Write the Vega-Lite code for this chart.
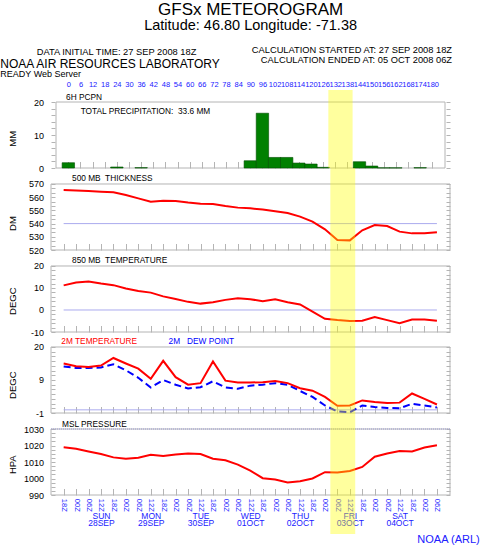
{
  "$schema": "https://vega.github.io/schema/vega-lite/v6.json",
  "padding": 0,
  "background": "white",
  "config": {
    "font": "Liberation Sans",
    "view": {"stroke": null},
    "axis": {"labelFont": "Liberation Sans", "titleFont": "Liberation Sans", "grid": false, "domain": false, "tickColor": "#b4b4b4", "labelColor": "black", "titleColor": "black", "titleFontWeight": "normal"},
    "title": {"font": "Liberation Sans", "subtitleFont": "Liberation Sans", "fontWeight": "normal", "color": "black", "subtitleColor": "black"}
  },
  "title": {"text": "GFSx METEOROGRAM", "subtitle": "Latitude: 46.80 Longitude: -71.38", "anchor": "middle", "frame": "group", "dx": 199.6, "fontSize": 17, "subtitleFontSize": 14.5, "subtitlePadding": 0.5, "offset": 12.5},
  "datasets": {
    "met": [
      {"hour": 0, "thk": 565.5, "t850": 11.2, "t2": 14.75, "td": 13.8, "slp": 1019},
      {"hour": 6, "thk": 565, "t850": 12.5, "t2": 13.9, "td": 13.3, "slp": 1018},
      {"hour": 12, "thk": 564.7, "t850": 13, "t2": 13.65, "td": 13.3, "slp": 1016.4},
      {"hour": 18, "thk": 564.2, "t850": 12, "t2": 14.1, "td": 13.5, "slp": 1014.8},
      {"hour": 24, "thk": 563.7, "t850": 11.3, "t2": 16.5, "td": 14.5, "slp": 1012.8},
      {"hour": 30, "thk": 561.7, "t850": 9.8, "t2": 14.75, "td": 12.6, "slp": 1012},
      {"hour": 36, "thk": 559.1, "t850": 8.6, "t2": 13.1, "td": 10.2, "slp": 1012.6},
      {"hour": 42, "thk": 556.6, "t850": 7.9, "t2": 9.9, "td": 7.1, "slp": 1014.4},
      {"hour": 48, "thk": 557.4, "t850": 6.2, "t2": 15.6, "td": 9.5, "slp": 1013.6},
      {"hour": 54, "thk": 557.1, "t850": 5, "t2": 10.4, "td": 8.0, "slp": 1014.6},
      {"hour": 60, "thk": 555.9, "t850": 3.7, "t2": 8.0, "td": 6.8, "slp": 1015.2},
      {"hour": 66, "thk": 555.1, "t850": 2.9, "t2": 8.5, "td": 7.2, "slp": 1014.8},
      {"hour": 72, "thk": 554.8, "t850": 3.5, "t2": 15.4, "td": 9.1, "slp": 1012},
      {"hour": 78, "thk": 553.3, "t850": 4.6, "t2": 9.3, "td": 7.1, "slp": 1011},
      {"hour": 84, "thk": 552.1, "t850": 5.3, "t2": 8.7, "td": 6.7, "slp": 1008.4},
      {"hour": 90, "thk": 551.6, "t850": 4.9, "t2": 8.7, "td": 7.7, "slp": 1004.8},
      {"hour": 96, "thk": 550.6, "t850": 4, "t2": 8.8, "td": 8.0, "slp": 1000.2},
      {"hour": 102, "thk": 549.3, "t850": 4.9, "t2": 9.2, "td": 8.5, "slp": 999.4},
      {"hour": 108, "thk": 548, "t850": 3.5, "t2": 8.5, "td": 8.0, "slp": 997.6},
      {"hour": 114, "thk": 545.3, "t850": 2.5, "t2": 6.9, "td": 6.0, "slp": 998.4},
      {"hour": 120, "thk": 541.5, "t850": -0.7, "t2": 6.1, "td": 4.1, "slp": 1000},
      {"hour": 126, "thk": 535.7, "t850": -4, "t2": 4.1, "td": 1.4, "slp": 1003.8},
      {"hour": 132, "thk": 527.6, "t850": -4.6, "t2": 1.3, "td": -0.5, "slp": 1003.6},
      {"hour": 138, "thk": 527.3, "t850": -5, "t2": 1.4, "td": -0.8, "slp": 1004.6},
      {"hour": 144, "thk": 534.9, "t850": -4.9, "t2": 3.0, "td": 1.4, "slp": 1007},
      {"hour": 150, "thk": 538.9, "t850": -3.2, "t2": 2.5, "td": 0.9, "slp": 1013.2},
      {"hour": 156, "thk": 538.2, "t850": -4.6, "t2": 2.2, "td": 0.6, "slp": 1015.2},
      {"hour": 162, "thk": 533.9, "t850": -6, "t2": 2.3, "td": 0.5, "slp": 1016.6},
      {"hour": 168, "thk": 532.6, "t850": -4.3, "t2": 5.2, "td": 1.95, "slp": 1016.4},
      {"hour": 174, "thk": 532.6, "t850": -4.3, "t2": 3.5, "td": 1.4, "slp": 1018.8},
      {"hour": 180, "thk": 533.4, "t850": -4.9, "t2": 1.7, "td": 0.75, "slp": 1020.2}
    ],
    "pcpn": [
      {"hour": 0, "mm": 1.6}, {"hour": 24, "mm": 0.3}, {"hour": 36, "mm": 0.1},
      {"hour": 90, "mm": 2.2}, {"hour": 96, "mm": 16.6}, {"hour": 102, "mm": 3.2},
      {"hour": 108, "mm": 3.2}, {"hour": 114, "mm": 1.5}, {"hour": 120, "mm": 1.2},
      {"hour": 126, "mm": 0.2}, {"hour": 144, "mm": 1.9}, {"hour": 150, "mm": 0.6},
      {"hour": 156, "mm": 0.05}, {"hour": 162, "mm": 0.05}, {"hour": 174, "mm": 0.1}
    ],
    "band": [{"start": 128.6, "end": 140.6}]
  },
  "bounds": "flush",
  "spacing": 0,
  "vconcat": [
    {
      "hconcat": [
        {"width": 131, "height": 13, "data": {"values": []}, "mark": "point",
         "title": {"text": "DATA INITIAL TIME: 27 SEP 2008 18Z", "anchor": "middle", "fontSize": 9.3, "offset": -4}},
        {"width": 268, "height": 13, "data": {"values": []}, "mark": "point",
         "title": {"text": ["CALCULATION STARTED AT: 27 SEP 2008 18Z", "CALCULATION ENDED AT: 05 OCT 2008 06Z"], "anchor": "end", "dx": 2, "fontSize": 9.3, "lineHeight": 9.5, "offset": -12.1}}
      ],
      "spacing": 0,
      "bounds": "flush"
    },
    {"width": 399, "height": 37, "data": {"values": []}, "mark": "point",
     "title": {"text": "NOAA AIR RESOURCES LABORATORY", "subtitle": "READY Web Server", "anchor": "start", "dx": -50.7, "fontSize": 12, "subtitleFontSize": 9, "subtitlePadding": -1, "offset": -27}},
    {
      "width": 399, "height": 78,
      "resolve": {"axis": {"x": "independent", "y": "independent"}},
      "layer": [
        {"data": {"values": [{}]}, "mark": {"type": "rect", "fillOpacity": 0, "stroke": "#b4b4b4", "strokeWidth": 1},
         "encoding": {
           "x": {"datum": -6.1, "type": "quantitative", "scale": {"domain": [-6.1, 186.3], "nice": false, "zero": false},
                 "axis": {"orient": "bottom", "values": [0,6,12,18,24,30,36,42,48,54,60,66,72,78,84,90,96,102,108,114,120,126,132,138,144,150,156,162,168,174,180], "labels": false, "tickSize": -6.5, "domain": false, "grid": false, "title": null}},
           "x2": {"datum": 186.3},
           "y": {"datum": 0, "type": "quantitative", "scale": {"domain": [0, 23.64], "nice": false, "zero": false},
                 "axis": {"orient": "right", "values": [0,2,4,6,8,10,12,14,16,18,20], "labels": false, "tickSize": -4, "domain": false, "grid": false, "title": null}},
           "y2": {"datum": 20}
         }},
        {"data": {"name": "pcpn"}, "mark": {"type": "bar", "width": 12.4, "fill": "#008000", "stroke": "#004d00", "strokeWidth": 0.6},
         "encoding": {
           "x": {"field": "hour", "type": "quantitative", "axis": null},
           "y": {"field": "mm", "type": "quantitative",
                 "axis": {"orient": "left", "values": [0,2,4,6,8,10,12,14,16,18,20], "labelExpr": "datum.value % 10 == 0 ? toString(datum.value) : ''", "tickSize": -4, "labelPadding": 11.4, "labelFontSize": 9, "labelOverlap": false, "labelFlush": false, "domain": false, "grid": false,
                          "title": "MM", "titleFontSize": 9.5, "titleX": -39, "titleY": 48.3, "titleAngle": 270, "titleAlign": "center", "titleBaseline": "middle"}}
         }},
        {"data": {"values": [{"label": "6H PCPN"}]}, "mark": {"type": "text", "align": "left", "baseline": "middle", "fontSize": 8.3, "color": "black"},
         "encoding": {"text": {"field": "label"}, "x": {"datum": -1.1, "axis": null}, "y": {"datum": 21.2, "axis": null}}},
        {"data": {"values": [{"label": "TOTAL PRECIPITATION:\u00a0 33.6 MM"}]}, "mark": {"type": "text", "align": "left", "baseline": "middle", "fontSize": 8.3, "color": "black"},
         "encoding": {"text": {"field": "label"}, "x": {"datum": 6.1, "axis": null}, "y": {"datum": 16.88, "axis": null}}},
        {"data": {"name": "band"}, "mark": {"type": "rect", "color": "#ffff00", "opacity": 0.38},
         "encoding": {
           "x": {"field": "start", "type": "quantitative",
                 "axis": {"orient": "top", "values": [0,6,12,18,24,30,36,42,48,54,60,66,72,78,84,90,96,102,108,114,120,126,132,138,144,150,156,162,168,174,180], "labelExpr": "toString(datum.value)", "ticks": false, "domain": false, "grid": false, "labelPadding": 1.5, "labelFontSize": 7.5, "labelColor": "#2020ff", "labelOverlap": false, "labelFlush": false, "labelBound": false, "title": null}},
           "x2": {"field": "end"}
         }}
      ]
    },
    {
      "width": 399, "height": 82,
      "resolve": {"axis": {"x": "independent", "y": "independent"}},
      "layer": [
        {"data": {"values": [{}]}, "mark": {"type": "rect", "fillOpacity": 0, "stroke": "#b4b4b4", "strokeWidth": 1},
         "encoding": {
           "x": {"datum": -6.1, "type": "quantitative", "scale": {"domain": [-6.1, 186.3], "nice": false, "zero": false},
                 "axis": {"orient": "bottom", "values": [0,6,12,18,24,30,36,42,48,54,60,66,72,78,84,90,96,102,108,114,120,126,132,138,144,150,156,162,168,174,180], "labels": false, "tickSize": -6.5, "domain": false, "grid": false, "title": null}},
           "x2": {"datum": 186.3},
           "y": {"datum": 520, "type": "quantitative", "scale": {"domain": [520, 582.12], "nice": false, "zero": false},
                 "axis": {"orient": "right", "values": [520,523.33,526.67,530,533.33,536.67,540,543.33,546.67,550,553.33,556.67,560,563.33,566.67,570], "labels": false, "tickSize": -4, "domain": false, "grid": false, "title": null}},
           "y2": {"datum": 570}
         }},
        {"data": {"values": [{}]}, "mark": {"type": "rule", "color": "#aaaaee", "strokeWidth": 1},
         "encoding": {"x": {"datum": 0, "axis": null}, "x2": {"datum": 180}, "y": {"datum": 540, "axis": null}}},
        {"data": {"name": "met"}, "mark": {"type": "line", "color": "#ff0000", "strokeWidth": 2},
         "encoding": {
           "x": {"field": "hour", "type": "quantitative", "axis": null},
           "y": {"field": "thk", "type": "quantitative",
                 "axis": {"orient": "left", "values": [520,523.33,526.67,530,533.33,536.67,540,543.33,546.67,550,553.33,556.67,560,563.33,566.67,570], "labelExpr": "datum.value % 10 == 0 ? toString(datum.value) : ''", "tickSize": -4, "labelPadding": 11.4, "labelFontSize": 9, "labelOverlap": false, "labelFlush": false, "domain": false, "grid": false,
                          "title": "DM", "titleFontSize": 9.5, "titleX": -39, "titleY": 55, "titleAngle": 270, "titleAlign": "center", "titleBaseline": "middle"}}
         }},
        {"data": {"values": [{"label": "500 MB\u00a0 THICKNESS"}]}, "mark": {"type": "text", "align": "left", "baseline": "middle", "fontSize": 8.3, "color": "black"},
         "encoding": {"text": {"field": "label"}, "x": {"datum": 4.05, "axis": null}, "y": {"datum": 574.0, "axis": null}}},
        {"data": {"name": "band"}, "mark": {"type": "rect", "color": "#ffff00", "opacity": 0.38},
         "encoding": {"x": {"field": "start", "type": "quantitative", "axis": null}, "x2": {"field": "end"}}}
      ]
    },
    {
      "width": 399, "height": 82,
      "resolve": {"axis": {"x": "independent", "y": "independent"}},
      "layer": [
        {"data": {"values": [{}]}, "mark": {"type": "rect", "fillOpacity": 0, "stroke": "#b4b4b4", "strokeWidth": 1},
         "encoding": {
           "x": {"datum": -6.1, "type": "quantitative", "scale": {"domain": [-6.1, 186.3], "nice": false, "zero": false},
                 "axis": {"orient": "bottom", "values": [0,6,12,18,24,30,36,42,48,54,60,66,72,78,84,90,96,102,108,114,120,126,132,138,144,150,156,162,168,174,180], "labels": false, "tickSize": -6.5, "domain": false, "grid": false, "title": null}},
           "x2": {"datum": 186.3},
           "y": {"datum": -10, "type": "quantitative", "scale": {"domain": [-10, 27.27], "nice": false, "zero": false},
                 "axis": {"orient": "right", "values": [-10,-8,-6,-4,-2,0,2,4,6,8,10,12,14,16,18,20], "labels": false, "tickSize": -4, "domain": false, "grid": false, "title": null}},
           "y2": {"datum": 20}
         }},
        {"data": {"values": [{}]}, "mark": {"type": "rule", "color": "#aaaaee", "strokeWidth": 1},
         "encoding": {"x": {"datum": 0, "axis": null}, "x2": {"datum": 180}, "y": {"datum": 0, "axis": null}}},
        {"data": {"name": "met"}, "mark": {"type": "line", "color": "#ff0000", "strokeWidth": 2},
         "encoding": {
           "x": {"field": "hour", "type": "quantitative", "axis": null},
           "y": {"field": "t850", "type": "quantitative",
                 "axis": {"orient": "left", "values": [-10,-8,-6,-4,-2,0,2,4,6,8,10,12,14,16,18,20], "labelExpr": "datum.value % 10 == 0 ? toString(datum.value) : ''", "tickSize": -4, "labelPadding": 11.4, "labelFontSize": 9, "labelOverlap": false, "labelFlush": false, "domain": false, "grid": false,
                          "title": "DEGC", "titleFontSize": 9.5, "titleX": -39, "titleY": 50.7, "titleAngle": 270, "titleAlign": "center", "titleBaseline": "middle"}}
         }},
        {"data": {"values": [{"label": "850 MB\u00a0 TEMPERATURE"}]}, "mark": {"type": "text", "align": "left", "baseline": "middle", "fontSize": 8.3, "color": "black"},
         "encoding": {"text": {"field": "label"}, "x": {"datum": 4.05, "axis": null}, "y": {"datum": 22.27, "axis": null}}},
        {"data": {"name": "band"}, "mark": {"type": "rect", "color": "#ffff00", "opacity": 0.38},
         "encoding": {"x": {"field": "start", "type": "quantitative", "axis": null}, "x2": {"field": "end"}}}
      ]
    },
    {
      "width": 399, "height": 81,
      "resolve": {"axis": {"x": "independent", "y": "independent"}},
      "layer": [
        {"data": {"values": [{}]}, "mark": {"type": "rect", "fillOpacity": 0, "stroke": "#b4b4b4", "strokeWidth": 1},
         "encoding": {
           "x": {"datum": -6.1, "type": "quantitative", "scale": {"domain": [-6.1, 186.3], "nice": false, "zero": false},
                 "axis": {"orient": "bottom", "values": [0,6,12,18,24,30,36,42,48,54,60,66,72,78,84,90,96,102,108,114,120,126,132,138,144,150,156,162,168,174,180], "labels": false, "tickSize": -6.5, "domain": false, "grid": false, "title": null}},
           "x2": {"datum": 186.3},
           "y": {"datum": -1, "type": "quantitative", "scale": {"domain": [-1, 24.77], "nice": false, "zero": false},
                 "axis": {"orient": "right", "values": [-1,0.5,2,3.5,5,6.5,8,9.5,11,12.5,14,15.5,17,18.5,20], "labels": false, "tickSize": -4, "domain": false, "grid": false, "title": null}},
           "y2": {"datum": 20}
         }},
        {"data": {"values": [{}]}, "mark": {"type": "rule", "color": "#aaaaee", "strokeWidth": 1},
         "encoding": {"x": {"datum": 0, "axis": null}, "x2": {"datum": 180}, "y": {"datum": 0, "axis": null}}},
        {"data": {"name": "met"}, "mark": {"type": "line", "color": "#0000ff", "strokeWidth": 2, "strokeDash": [7, 4]},
         "encoding": {
           "x": {"field": "hour", "type": "quantitative", "axis": null},
           "y": {"field": "td", "type": "quantitative", "axis": null}
         }},
        {"data": {"name": "met"}, "mark": {"type": "line", "color": "#ff0000", "strokeWidth": 2},
         "encoding": {
           "x": {"field": "hour", "type": "quantitative", "axis": null},
           "y": {"field": "t2", "type": "quantitative",
                 "axis": {"orient": "left", "values": [-1,0.5,2,3.5,5,6.5,8,9.5,11,12.5,14,15.5,17,18.5,20], "labelExpr": "datum.value == -1 ? '-1' : datum.value == 9.5 ? '9' : datum.value == 20 ? '20' : ''", "tickSize": -4, "labelPadding": 11.4, "labelFontSize": 9, "labelOverlap": false, "labelFlush": false, "domain": false, "grid": false,
                          "title": "DEGC", "titleFontSize": 9.5, "titleX": -39, "titleY": 52.7, "titleAngle": 270, "titleAlign": "center", "titleBaseline": "middle"}}
         }},
        {"data": {"values": [{"label": "2M TEMPERATURE"}]}, "mark": {"type": "text", "align": "left", "baseline": "middle", "fontSize": 8.3, "color": "#ff0000"},
         "encoding": {"text": {"field": "label"}, "x": {"datum": -1.1, "axis": null}, "y": {"datum": 21.5, "axis": null}}},
        {"data": {"values": [{"label": "2M\u00a0\u00a0 DEW POINT"}]}, "mark": {"type": "text", "align": "left", "baseline": "middle", "fontSize": 8.3, "color": "#0000ff"},
         "encoding": {"text": {"field": "label"}, "x": {"datum": 50.6, "axis": null}, "y": {"datum": 21.5, "axis": null}}},
        {"data": {"name": "band"}, "mark": {"type": "rect", "color": "#ffff00", "opacity": 0.38},
         "encoding": {"x": {"field": "start", "type": "quantitative", "axis": null}, "x2": {"field": "end"}}}
      ]
    },
    {
      "width": 399, "height": 82,
      "resolve": {"axis": {"x": "independent", "y": "independent"}},
      "layer": [
        {"data": {"values": [{}]}, "mark": {"type": "rect", "fillOpacity": 0, "stroke": "#b4b4b4", "strokeWidth": 1},
         "encoding": {
           "x": {"datum": -6.1, "type": "quantitative", "scale": {"domain": [-6.1, 186.3], "nice": false, "zero": false},
                 "axis": {"orient": "bottom", "values": [0,6,12,18,24,30,36,42,48,54,60,66,72,78,84,90,96,102,108,114,120,126,132,138,144,150,156,162,168,174,180], "tickSize": -6.5, "labelExpr": "(((datum.value + 18) % 24) < 10 ? '0' : '') + toString((datum.value + 18) % 24) + 'Z'", "labelAngle": 90, "labelAlign": "left", "labelBaseline": "middle", "labelPadding": 9.8, "labelFontSize": 7.5, "labelColor": "#2020ff", "labelOverlap": false, "labelFlush": false, "labelBound": false, "domain": false, "grid": false, "title": null}},
           "x2": {"datum": 186.3},
           "y": {"datum": 990, "type": "quantitative", "scale": {"domain": [990, 1039.7], "nice": false, "zero": false},
                 "axis": {"orient": "right", "values": [990,992.5,995,997.5,1000,1002.5,1005,1007.5,1010,1012.5,1015,1017.5,1020,1022.5,1025,1027.5,1030], "labels": false, "tickSize": -4, "domain": false, "grid": false, "title": null}},
           "y2": {"datum": 1030}
         }},
        {"data": {"values": [{}]}, "mark": {"type": "rule", "color": "#9a9ad8", "strokeWidth": 1, "strokeDash": [1, 1]},
         "encoding": {
           "x": {"datum": -6.1, "axis": {"orient": "bottom", "values": [18,42,66,90,114,138,162], "labelExpr": "upper(utcFormat(utc(2008, 8, 27, 18) + datum.value * 3600000, '%a'))", "ticks": false, "domain": false, "grid": false, "labelPadding": 16.5, "labelBaseline": "top", "labelFontSize": 8.5, "labelColor": "#2020ff", "labelOverlap": false, "labelFlush": false, "labelBound": false, "title": null}},
           "x2": {"datum": 186.3},
           "y": {"datum": 1030, "axis": null}}},
        {"data": {"name": "met"}, "mark": {"type": "line", "color": "#ff0000", "strokeWidth": 2},
         "encoding": {
           "x": {"field": "hour", "type": "quantitative",
                 "axis": {"orient": "bottom", "values": [18,42,66,90,114,138,162], "labelExpr": "upper(utcFormat(utc(2008, 8, 27, 18) + datum.value * 3600000, '%d%b'))", "ticks": false, "domain": false, "grid": false, "labelPadding": 23, "labelBaseline": "top", "labelFontSize": 8.5, "labelColor": "#2020ff", "labelOverlap": false, "labelFlush": false, "labelBound": false, "title": null}},
           "y": {"field": "slp", "type": "quantitative",
                 "axis": {"orient": "left", "values": [990,992.5,995,997.5,1000,1002.5,1005,1007.5,1010,1012.5,1015,1017.5,1020,1022.5,1025,1027.5,1030], "labelExpr": "datum.value % 10 == 0 ? toString(datum.value) : ''", "tickSize": -4, "labelPadding": 11.4, "labelFontSize": 9, "labelOverlap": false, "labelFlush": false, "domain": false, "grid": false,
                          "title": "HPA", "titleFontSize": 9.5, "titleX": -39, "titleY": 51.2, "titleAngle": 270, "titleAlign": "center", "titleBaseline": "middle"}}
         }},
        {"data": {"values": [{"label": "MSL PRESSURE"}]}, "mark": {"type": "text", "align": "left", "baseline": "middle", "fontSize": 8.3, "color": "black"},
         "encoding": {"text": {"field": "label"}, "x": {"datum": -0.8, "axis": null}, "y": {"datum": 1032.4, "axis": null}}},
        {"data": {"name": "band"}, "mark": {"type": "rect", "color": "#ffff00", "opacity": 0.38},
         "encoding": {"x": {"field": "start", "type": "quantitative", "axis": null}, "x2": {"field": "end"}}}
      ]
    },
    {
      "width": 399, "height": 39,
      "data": {"name": "band"},
      "mark": {"type": "rect", "color": "#ffff00", "opacity": 0.38},
      "encoding": {
        "x": {"field": "start", "type": "quantitative", "scale": {"domain": [-6.1, 186.3], "nice": false, "zero": false}, "axis": null},
        "x2": {"field": "end"}
      },
      "title": {"text": "NOAA (ARL)", "orient": "bottom", "anchor": "end", "dx": 29.7, "fontSize": 11, "color": "#2020ff", "offset": 0}
    }
  ]
}
